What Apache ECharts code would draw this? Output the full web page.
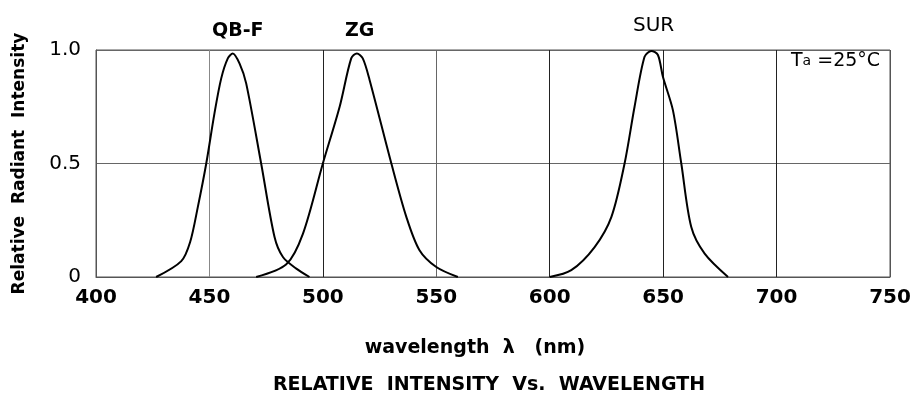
<!DOCTYPE html>
<html><head><meta charset="utf-8">
<script src="https://cdn.jsdelivr.net/npm/echarts@6/dist/echarts.min.js"></script>
<style>html,body{margin:0;padding:0;background:#fff}#c{width:914px;height:396px}</style>
</head><body><div id="c"></div>
<script>
var xTicks = [400, 450, 500, 550, 600, 650, 700, 750];
var yTicks = [0, 0.5, 1.0];
var seriesNames = ['QB-F', 'ZG', 'SUR'];
var qbfData = [[426.5,0],[437.6,0.07],[441.5,0.154],[444.9,0.309],[448.6,0.5],[452.2,0.72],[455.2,0.875],[458.1,0.963],[460.3,0.985],[463.3,0.94],[466.2,0.853],[472.8,0.5],[478.7,0.176],[482.4,0.088],[488.3,0.037],[494.1,0]];
var zgData = [[470.6,0],[483.9,0.056],[491.2,0.19],[500,0.5],[507.4,0.75],[512.5,0.963],[515,0.985],[517.6,0.963],[520.6,0.868],[530.2,0.5],[536.8,0.265],[542.6,0.118],[550,0.044],[559.5,0]];
var surData = [[600,0],[609.5,0.03],[619.8,0.132],[627.2,0.265],[633,0.5],[637.4,0.75],[641.8,0.97],[644.8,0.996],[647.7,0.978],[649.9,0.882],[654.3,0.735],[658,0.5],[662.4,0.22],[668.3,0.103],[678.6,0]];

var FONT = 'DejaVu Sans';
var chart = echarts.init(document.getElementById('c'));
function mk(name, data){
  return {name:name, type:'line', data:data, smooth:0.3, symbol:'none',
    lineStyle:{color:'#000', width:2}, z:5};
}
chart.setOption({
  animation:false,
  backgroundColor:'#fff',
  grid:{left:96, right:24, top:50, bottom:119, show:true, borderColor:'#555', borderWidth:1},
  title:{text:'RELATIVE  INTENSITY  Vs.  WAVELENGTH', left:484, top:371, textAlign:'center',
    textStyle:{fontFamily:FONT, fontSize:19, fontWeight:'bold', color:'#000'}},
  xAxis:{type:'value', min:xTicks[0], max:xTicks[xTicks.length-1], interval:50,
    name:'wavelength  λ   (nm)', nameLocation:'middle', nameGap:62,
    nameTextStyle:{fontFamily:FONT, fontSize:19, fontWeight:'bold', color:'#000', padding:[0,36,0,0]},
    axisLine:{show:true, lineStyle:{color:'#555', width:1}},
    axisTick:{show:false},
    axisLabel:{fontFamily:FONT, fontSize:20, fontWeight:'bold', color:'#000', margin:11},
    splitLine:{show:true, lineStyle:{color:['#555','#888','#222','#666','#222','#222','#222','#555'], width:1}}},
  yAxis:{type:'value', min:yTicks[0], max:yTicks[yTicks.length-1], interval:0.5,
    name:'Relative  Radiant  Intensity', nameLocation:'middle', nameGap:68, nameRotate:90,
    nameTextStyle:{fontFamily:FONT, fontSize:17, fontWeight:'bold', color:'#000'},
    axisLine:{show:true, lineStyle:{color:'#555', width:1}},
    axisTick:{show:false},
    axisLabel:{fontFamily:FONT, fontSize:20, color:'#000', margin:15,
      formatter:function(v){return v===0?'0':v.toFixed(1);}},
    splitLine:{show:true, lineStyle:{color:'#666', width:1}}},
  graphic:[
    {type:'text', left:212, top:22, style:{text:seriesNames[0], font:'bold 19px "DejaVu Sans"', fill:'#000'}},
    {type:'text', left:345, top:22, style:{text:seriesNames[1], font:'bold 19px "DejaVu Sans"', fill:'#000'}},
    {type:'text', left:633, top:16, style:{text:seriesNames[2], font:'20px "DejaVu Sans"', fill:'#000'}},
    {type:'text', left:791, top:52, style:{text:'{t|T}{a|a}{t| =25°C}', rich:{
      t:{fontFamily:FONT, fontSize:19, fill:'#000', color:'#000', verticalAlign:'bottom'},
      a:{fontFamily:FONT, fontSize:14, fill:'#000', color:'#000', verticalAlign:'bottom', padding:[0,0,3,0]}}}}
  ],
  series:[mk(seriesNames[0], qbfData), mk(seriesNames[1], zgData), mk(seriesNames[2], surData)]
});
</script></body></html>
